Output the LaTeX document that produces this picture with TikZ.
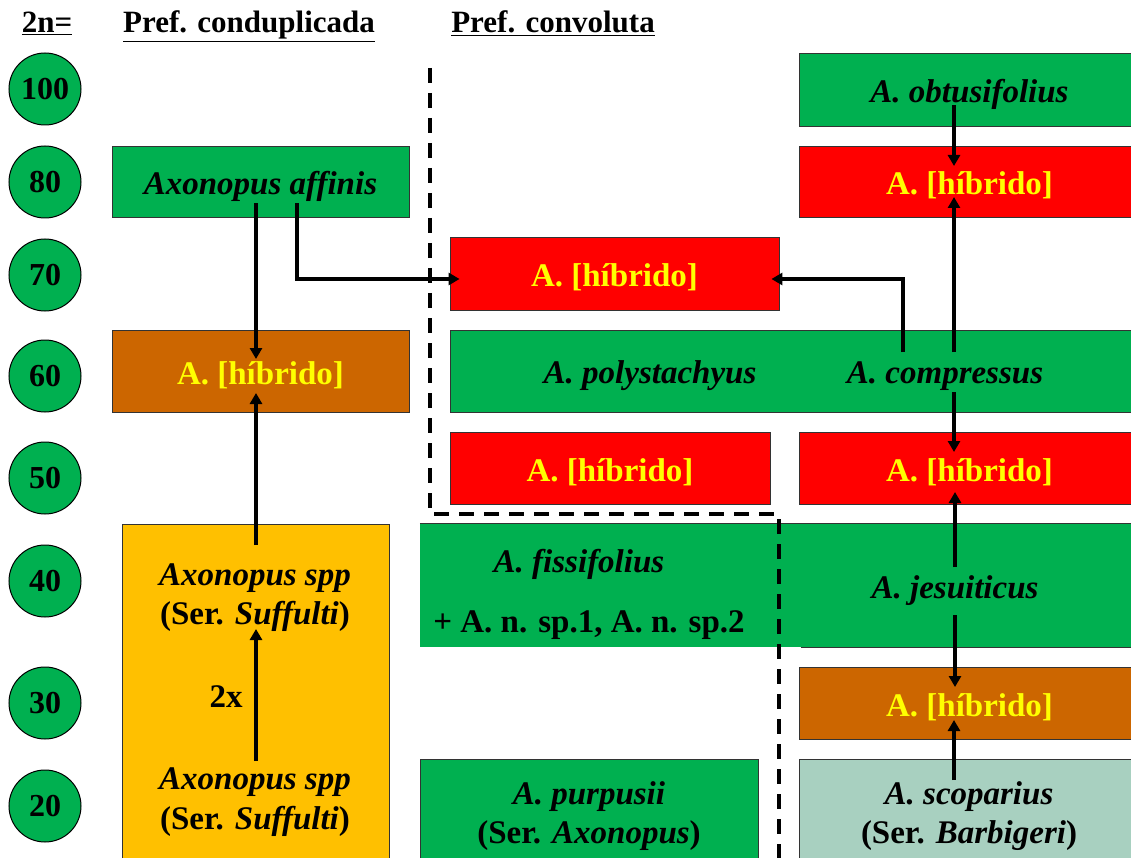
\documentclass[tikz,border=0pt]{standalone}
\usepackage{fontspec}
\setmainfont{Liberation Serif}
\usetikzlibrary{calc,arrows.meta}
\definecolor{cgreen}{HTML}{00B050}
\definecolor{cred}{HTML}{FF0000}
\definecolor{corange}{HTML}{CC6600}
\definecolor{cyellowbox}{HTML}{FFC000}
\definecolor{cteal}{HTML}{A8D0C0}
\definecolor{ctext}{HTML}{FFFF00}
\begin{document}
\begin{tikzpicture}[x=1pt,y=-1pt,
  bigfont/.style={font=\bfseries\fontsize{33}{39.5}\selectfont},
  box/.style={bigfont,draw=black!80,line width=0.8pt,rectangle,inner sep=0pt,align=center,text height=26pt,text depth=0pt},
  gbox/.style={box,fill=cgreen},
  rbox/.style={box,fill=cred,text=ctext},
  obox/.style={box,fill=corange,text=ctext},
  lbl/.style={bigfont,inner sep=0pt,align=center},
  hdr/.style={font=\bfseries\fontsize{31}{36}\selectfont,inner sep=0pt,anchor=base},
  circ/.style={circle,draw=black,line width=1pt,fill=cgreen,minimum size=72pt,inner sep=0pt,font=\bfseries\fontsize{32}{36}\selectfont},
  arr/.style={line width=3.6pt,-{Triangle[length=11pt,width=12pt]}},
  dashline/.style={line width=3.6pt,dash pattern=on 15pt off 10pt},
  bline/.style={draw=black!80,line width=0.8pt}]
\useasboundingbox (0,0) rectangle (1131,858);
\clip (0,0) rectangle (1131,858);

% headers
\node[hdr] (h2n) at (47,33) {\underline{2n=}};
\node[hdr] (hcond) at (249,33) {\underline{Pref. conduplicada}};
\node[hdr] (hconv) at (553,33) {\underline{Pref. convoluta}};

% ploidy circles
\node[circ] (c100) at (45,89) {100};
\node[circ] (c80) at (45,182) {80};
\node[circ] (c70) at (45,275) {70};
\node[circ] (c60) at (45,376) {60};
\node[circ] (c50) at (45,478) {50};
\node[circ] (c40) at (45,581) {40};
\node[circ] (c30) at (45,703) {30};
\node[circ] (c20) at (45,806) {20};

% left column
\node[gbox,minimum width=297pt,minimum height=71pt] (aff) at (260.5,181.5) {\textit{Axonopus affinis}};
\node[obox,minimum width=297pt,minimum height=82pt] (h60) at (260.5,371) {A. [híbrido]};
\node[box,fill=cyellowbox,minimum width=267pt,minimum height=346pt] (yel) at (255.5,697) {};
\node[lbl] (spp40) at (255,597.5) {\textit{Axonopus spp}\\(Ser. \textit{Suffulti})};
\node[lbl] (spp20) at (255,802) {\textit{Axonopus spp}\\(Ser. \textit{Suffulti})};
\node[lbl] (twox) at (226,697) {2x};

% right columns
\node[gbox,minimum width=341pt,minimum height=73pt] (obt) at (969.5,89.5) {\textit{A. obtusifolius}};
\node[rbox,minimum width=341pt,minimum height=71pt] (r80) at (969.5,181.5) {A. [híbrido]};
\node[rbox,minimum width=329pt,minimum height=73pt] (r70) at (614.5,273.5) {A. [híbrido]};
\node[gbox,minimum width=690pt,minimum height=82pt] (poly) at (795,371) {};
\node[lbl] (polyt) at (650,376) {\textit{A. polystachyus}};
\node[lbl] (comp) at (945,376) {\textit{A. compressus}};
\node[rbox,minimum width=320pt,minimum height=72pt] (r50L) at (610,468) {A. [híbrido]};
\node[rbox,minimum width=341pt,minimum height=72pt] (r50R) at (969.5,468) {A. [híbrido]};
\node[fill=cgreen,inner sep=0pt,minimum width=720pt,minimum height=123pt] (fissbox) at (780,585.5) {};
\draw[bline] (fissbox.north west) -- (fissbox.north east);
\draw[bline] ($(fissbox.south west)+(381,0)$) -- (fissbox.south east);
\node[lbl] (fiss) at (579,564) {\textit{A. fissifolius}};
\node[lbl] (nsp) at (589,625) {+ A. n. sp.1, A. n. sp.2};
\node[lbl] (jes) at (955,591) {\textit{A. jesuiticus}};
\node[obox,minimum width=341pt,minimum height=72pt] (o30) at (969.5,703) {A. [híbrido]};
\node[gbox,minimum width=338pt,minimum height=111pt] (purp) at (589,814.5) {};
\node[lbl] (purpt) at (589,816) {\textit{A. purpusii}\\(Ser. \textit{Axonopus})};
\node[box,fill=cteal,minimum width=341pt,minimum height=111pt] (scop) at (969.5,814.5) {};
\node[lbl] (scopt) at (969,816) {\textit{A. scoparius}\\(Ser. \textit{Barbigeri})};

% dashed separator
\draw[dashline] (430,68) -- (430,514) -- (779,514) -- (779,858);

% connectors
\draw[arr] ($(aff.center)+(-4.5,22)$) -- ($(h60.center)+(-4.5,-12)$);
\draw[arr] ($(aff.center)+(36.5,22)$) |- ($(r70.west)+(10,5.5)$);
\draw[arr] ($(comp.center)+(-42,-24)$) |- ($(r70.east)+(-8,5.5)$);
\draw[arr] ($(comp.center)+(9,-24)$) -- ($(r80.center)+(-15.5,15.5)$);
\draw[arr] ($(obt.center)+(-15.5,15.5)$) -- ($(r80.center)+(-15.5,-15.5)$);
\draw[arr] ($(comp.center)+(9,16)$) -- ($(r50R.center)+(-15.5,-16)$);
\draw[arr] ($(jes.center)+(0,-24)$) -- ($(r50R.center)+(-14.5,24)$);
\draw[arr] ($(jes.center)+(0,24)$) -- ($(o30.center)+(-14.5,-16)$);
\draw[arr] ($(scop.center)+(-15.5,-34.5)$) -- ($(o30.center)+(-15.5,17)$);
\draw[arr] ($(spp40.center)+(1,-52.5)$) -- ($(h60.center)+(-4.5,22)$);
\draw[arr] ($(spp20.center)+(1,-41)$) -- ($(spp40.center)+(1,31.5)$);
\end{tikzpicture}
\end{document}
